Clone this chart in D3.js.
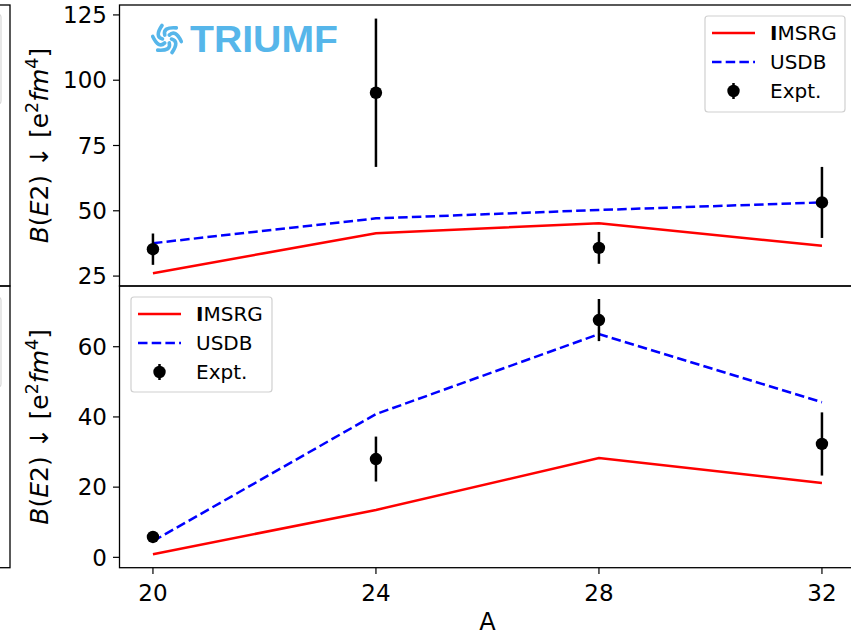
<!DOCTYPE html>
<html><head><meta charset="utf-8">
<script src="https://cdn.jsdelivr.net/npm/d3@7"></script>
<style>body{margin:0;background:#fff}svg{display:block}</style>
</head><body>
<script>
const A = [20, 24, 28, 32];
const xTicks = [20, 24, 28, 32];
const topIMSRG = [26.1, 41.4, 45.2, 36.6];
const topUSDB  = [37.6, 47.1, 50.3, 53.2];
const topExpt  = [35.3, 95.2, 35.8, 53.2];
const topErr   = [6.0, 28.4, 6.1, 13.6];
const topTicks = [25, 50, 75, 100, 125];
const botIMSRG = [0.9, 13.5, 28.3, 21.2];
const botUSDB  = [4.6, 40.8, 63.6, 44.2];
const botExpt  = [5.8, 28.0, 67.6, 32.3];
const botErr   = [0.6, 6.4, 6.0, 9.0];
const botTicks = [0, 20, 40, 60];
const legendLabels = ["MSRG", "USDB", "Expt."];

const W = 851, H = 636;
const font = "DejaVu Sans, sans-serif";
const svg = d3.select("body").append("svg").attr("width", W).attr("height", H)
  .style("font-family", font);

const x = d3.scaleLinear().domain([19.4, 32.6]).range([119.5, 855.4]);
const panels = [
  {y: d3.scaleLinear().domain([21.2, 128.8]).range([286, 5]), ticks: topTicks,
   imsrg: topIMSRG, usdb: topUSDB, expt: topExpt, err: topErr, top: 5, bottom: 286,
   legend: {x: 705, y: 16, w: 140, h: 96}},
  {y: d3.scaleLinear().domain([-2.95, 77.3]).range([567.7, 286]), ticks: botTicks,
   imsrg: botIMSRG, usdb: botUSDB, expt: botExpt, err: botErr, top: 286, bottom: 567.7,
   legend: {x: 131, y: 297, w: 141, h: 95}}
];

// partial neighbouring panels on the far left
svg.append("rect").attr("x", -300).attr("y", 14).attr("width", 301).attr("height", 90)
  .attr("fill", "#fff").attr("stroke", "#d8d8d8").attr("stroke-width", 1.2).attr("rx", 3);
svg.append("rect").attr("x", -300).attr("y", 297).attr("width", 301).attr("height", 90)
  .attr("fill", "#fff").attr("stroke", "#d8d8d8").attr("stroke-width", 1.2).attr("rx", 3);
svg.append("rect").attr("x", -300).attr("y", 5).attr("width", 310).attr("height", 281)
  .attr("fill", "none").attr("stroke", "#000").attr("stroke-width", 1.3);
svg.append("rect").attr("x", -300).attr("y", 286).attr("width", 310).attr("height", 281.7)
  .attr("fill", "none").attr("stroke", "#000").attr("stroke-width", 1.3);

panels.forEach((p, pi) => {
  const g = svg.append("g");
  const y = p.y;
  // y label
  const lab = g.append("text")
    .attr("transform", `translate(48,${(p.top + p.bottom) / 2}) rotate(-90)`)
    .attr("text-anchor", "middle").attr("font-size", 25).attr("fill", "#000");
  lab.append("tspan").attr("font-style", "italic").text("B");
  lab.append("tspan").text("(");
  lab.append("tspan").attr("font-style", "italic").text("E");
  lab.append("tspan").text("2) \u2193 [e");
  lab.append("tspan").attr("font-size", 17.5).attr("dy", -10).text("2");
  lab.append("tspan").attr("font-style", "italic").attr("dy", 10).text("fm");
  lab.append("tspan").attr("font-size", 17.5).attr("dy", -10).text("4");
  lab.append("tspan").attr("dy", 10).text("]");

  // y axis ticks
  p.ticks.forEach(t => {
    g.append("line").attr("x1", 113).attr("x2", 119.5).attr("y1", y(t)).attr("y2", y(t))
      .attr("stroke", "#000").attr("stroke-width", 1.2);
    g.append("text").attr("x", 107).attr("y", y(t)).attr("dy", "0.36em")
      .attr("text-anchor", "end").attr("font-size", 23).text(t);
  });

  const line = vals => d3.line().x((d, i) => x(A[i])).y(d => y(d))(vals);
  g.append("path").attr("d", line(p.imsrg)).attr("fill", "none")
    .attr("stroke", "#ff0000").attr("stroke-width", 2.5);
  g.append("path").attr("d", line(p.usdb)).attr("fill", "none")
    .attr("stroke", "#0000ff").attr("stroke-width", 2.5).attr("stroke-dasharray", "9.5,4.2");
  p.expt.forEach((v, i) => {
    g.append("line").attr("x1", x(A[i])).attr("x2", x(A[i]))
      .attr("y1", y(v - p.err[i])).attr("y2", y(v + p.err[i]))
      .attr("stroke", "#000").attr("stroke-width", 2.5);
    g.append("circle").attr("cx", x(A[i])).attr("cy", y(v)).attr("r", 6.2).attr("fill", "#000");
  });

  // frame
  g.append("rect").attr("x", 119.5).attr("y", p.top).attr("width", 855.4 - 119.5)
    .attr("height", p.bottom - p.top).attr("fill", "none").attr("stroke", "#000").attr("stroke-width", 1.3);

  // legend
  const L = p.legend;
  const lg = g.append("g");
  lg.append("rect").attr("x", L.x).attr("y", L.y).attr("width", L.w).attr("height", L.h)
    .attr("rx", 3).attr("fill", "#fff").attr("fill-opacity", 0.8)
    .attr("stroke", "#d0d0d0").attr("stroke-width", 1.2);
  const rows = [L.y + 17, L.y + 46, L.y + 75];
  const lx0 = L.x + 7, lx1 = L.x + 50, tx = L.x + 65;
  lg.append("line").attr("x1", lx0).attr("x2", lx1).attr("y1", rows[0]).attr("y2", rows[0])
    .attr("stroke", "#ff0000").attr("stroke-width", 2.5);
  lg.append("line").attr("x1", lx0).attr("x2", lx1).attr("y1", rows[1]).attr("y2", rows[1])
    .attr("stroke", "#0000ff").attr("stroke-width", 2.5).attr("stroke-dasharray", "9.5,4.2");
  const mx = (lx0 + lx1) / 2;
  lg.append("line").attr("x1", mx).attr("x2", mx).attr("y1", rows[2] - 8).attr("y2", rows[2] + 8)
    .attr("stroke", "#000").attr("stroke-width", 2.5);
  lg.append("circle").attr("cx", mx).attr("cy", rows[2]).attr("r", 6.2).attr("fill", "#000");
  const t0 = lg.append("text").attr("x", tx).attr("y", rows[0]).attr("dy", "0.36em").attr("font-size", 20);
  t0.append("tspan").attr("font-weight", "bold").text("I");
  t0.append("tspan").text(legendLabels[0]);
  lg.append("text").attr("x", tx).attr("y", rows[1]).attr("dy", "0.36em").attr("font-size", 20).text(legendLabels[1]);
  lg.append("text").attr("x", tx).attr("y", rows[2]).attr("dy", "0.36em").attr("font-size", 20).text(legendLabels[2]);
});

// x axis on bottom panel
xTicks.forEach(t => {
  svg.append("line").attr("x1", x(t)).attr("x2", x(t)).attr("y1", 567.7).attr("y2", 574)
    .attr("stroke", "#000").attr("stroke-width", 1.2);
  svg.append("text").attr("x", x(t)).attr("y", 601).attr("text-anchor", "middle")
    .attr("font-size", 23).text(t);
});
svg.append("text").attr("x", x(26)).attr("y", 630).attr("text-anchor", "middle")
  .attr("font-size", 24).text("A");

// TRIUMF logo
const logo = svg.append("g").attr("fill", "#56b6ea").attr("stroke", "#56b6ea");
const cx = 167, cy = 39;
for (let k = 0; k < 6; k++) {
  const a0 = (k * 60) * Math.PI / 180;
  const a1 = a0 + 70 * Math.PI / 180;
  const am = a0 + 10 * Math.PI / 180;
  const p0 = [cx + 4.5 * Math.cos(a0), cy + 4.5 * Math.sin(a0)];
  const p1 = [cx + 14.5 * Math.cos(a1), cy + 14.5 * Math.sin(a1)];
  const c = [cx + 13 * Math.cos(am), cy + 13 * Math.sin(am)];
  logo.append("path").attr("d", `M${p0}Q${c} ${p1}`).attr("fill", "none")
    .attr("stroke-width", 3.6).attr("stroke-linecap", "round");
}
svg.append("text").attr("x", 190).attr("y", 52).attr("font-family", "Liberation Sans, Arial, sans-serif")
  .attr("font-weight", "bold").attr("font-size", 37).attr("fill", "#56b6ea")
  .attr("textLength", 148).attr("lengthAdjust", "spacingAndGlyphs").text("TRIUMF");
</script>
</body></html>
